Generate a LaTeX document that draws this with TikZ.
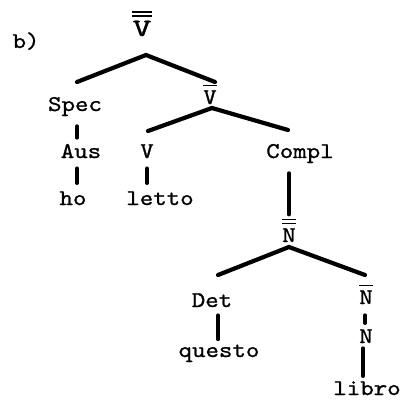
\documentclass[tikz,border=0pt]{standalone}
\usepackage{fontspec}
\newfontfamily\tw{lmmono10-regular}[Extension=.otf,FakeBold=1.0,FakeStretch=1.14]
\newfontfamily\twwide{lmmono10-regular}[Extension=.otf,FakeBold=1.0,FakeStretch=1.45]
% stacked bars over a category label (X-bar notation)
\newcommand{\onebar}[1]{\vbox{\hrule height 1.7pt\kern4pt\hbox{#1}}}
\newcommand{\twobar}[1]{\vbox{\hrule height 1.7pt\kern2.2pt\hrule height 1.7pt\kern4pt\hbox{#1}}}
\begin{document}
\begin{tikzpicture}[x=1pt,y=-1pt,
  lbl/.style={anchor=base,inner sep=0pt,font=\tw\fontsize{22.5}{26}\selectfont},
  branch/.style={line width=4.2pt,line cap=round},
  unary/.style={line width=3.8pt,line cap=round}]
\useasboundingbox (0,0) rectangle (403,413);

% labels
\node[lbl] (b)      at (26,48)   {b)};
\node[lbl,font=\twwide\fontsize{25}{28}\selectfont] (vv) at (142,36) {\twobar{V}};
\node[lbl] (spec)   at (75,111)  {Spec};
\node[lbl] (vb)     at (210,104) {\onebar{V}};
\node[lbl] (aus)    at (81,158)  {Aus};
\node[lbl] (v)      at (147,158) {V};
\node[lbl] (compl)  at (300,158) {Compl};
\node[lbl] (ho)     at (73,205)  {ho};
\node[lbl] (letto)  at (160,205) {letto};
\node[lbl] (nn)     at (289,242) {\twobar{N}};
\node[lbl] (det)    at (212,307) {Det};
\node[lbl] (nb)     at (366,304) {\onebar{N}};
\node[lbl] (questo) at (219,357) {questo};
\node[lbl] (n)      at (366,343) {N};
\node[lbl] (libro)  at (367,395) {libro};

% branch points and line ends
\coordinate (vv-a)   at (146,55);
\coordinate (spec-t) at (77,82);
\coordinate (vb-t)   at (215,82);
\coordinate (vb-a)   at (212,108);
\coordinate (v-t)    at (148,131);
\coordinate (compl-t) at (288,130);
\coordinate (nn-a)   at (289,247);
\coordinate (det-t)  at (218,275);
\coordinate (nb-t)   at (365,275);

\draw[branch] (spec-t) -- (vv-a) -- (vb-t);
\draw[branch] (v-t) -- (vb-a) -- (compl-t);
\draw[branch] (det-t) -- (nn-a) -- (nb-t);

% unary connectors
\draw[unary] ([xshift=2pt,yshift=-10pt]spec.south) -- ([xshift=-4pt,yshift=6pt]aus.north);
\draw[unary] ([xshift=-4pt,yshift=-10pt]aus.south) -- ([xshift=4pt,yshift=8pt]ho.north);
\draw[unary] ([yshift=-10pt]v.south) -- ([xshift=-13pt,yshift=8pt]letto.north);
\draw[unary] ([xshift=-11pt,yshift=-10pt]compl.south) -- ([yshift=4pt]nn.north);
\draw[unary] ([xshift=6pt,yshift=-8pt]det.south) -- ([xshift=-1pt,yshift=5pt]questo.north);
\draw[unary] ([xshift=-1pt,yshift=-11pt]nb.south) -- ([xshift=-1pt,yshift=6pt]n.north);
\draw[unary] ([xshift=-3pt,yshift=-5pt]n.south) -- ([xshift=-4pt,yshift=5pt]libro.north);
\end{tikzpicture}
\end{document}
